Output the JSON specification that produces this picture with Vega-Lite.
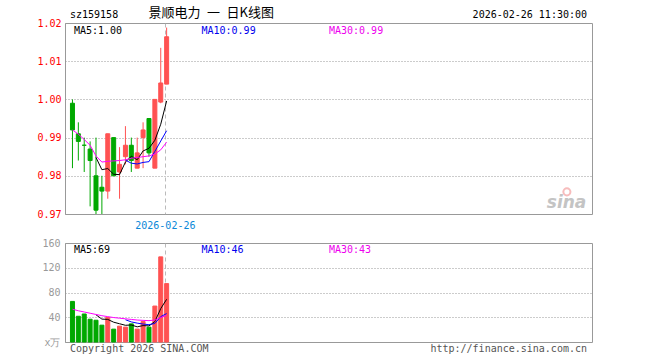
{
  "$schema": "https://vega.github.io/schema/vega-lite/v6.json",
  "padding": {"left": 36, "top": 6, "right": 0, "bottom": 0},
  "background": "white",
  "bounds": "flush",
  "spacing": 29,
  "config": {
    "view": {"stroke": "#999999", "strokeWidth": 1},
    "axis": {"labelFont": "DejaVu Sans Mono", "labelFontSize": 10, "title": null, "labelOverlap": false, "labelSeparation": 0},
    "axisY": {"labelOverlap": false},
    "axisQuantitative": {"labelOverlap": false},
    "text": {"font": "DejaVu Sans Mono", "fontSize": 10}
  },
  "datasets": {
    "candles": [
      {"i": 0, "open": 0.999, "high": 1.0, "low": 0.982, "close": 0.992, "vol": 65.6, "dir": "down"},
      {"i": 1, "open": 0.991, "high": 0.994, "low": 0.984, "close": 0.989, "vol": 41.6, "dir": "down"},
      {"i": 2, "open": 0.988, "high": 0.990, "low": 0.981, "close": 0.988, "vol": 45.3, "dir": "down"},
      {"i": 3, "open": 0.987, "high": 0.989, "low": 0.972, "close": 0.984, "vol": 36.8, "dir": "down"},
      {"i": 4, "open": 0.980, "high": 0.990, "low": 0.970, "close": 0.971, "vol": 35.2, "dir": "down"},
      {"i": 5, "open": 0.977, "high": 0.980, "low": 0.970, "close": 0.976, "vol": 27.2, "dir": "down"},
      {"i": 6, "open": 0.976, "high": 0.991, "low": 0.974, "close": 0.991, "vol": 39.5, "dir": "up"},
      {"i": 7, "open": 0.990, "high": 0.990, "low": 0.980, "close": 0.980, "vol": 20.8, "dir": "down"},
      {"i": 8, "open": 0.981, "high": 0.9875, "low": 0.974, "close": 0.983, "vol": 25.6, "dir": "up"},
      {"i": 9, "open": 0.985, "high": 0.993, "low": 0.983, "close": 0.988, "vol": 24.0, "dir": "up"},
      {"i": 10, "open": 0.988, "high": 0.990, "low": 0.981, "close": 0.984, "vol": 29.3, "dir": "down"},
      {"i": 11, "open": 0.982, "high": 0.990, "low": 0.982, "close": 0.986, "vol": 20.8, "dir": "up"},
      {"i": 12, "open": 0.990, "high": 0.994, "low": 0.982, "close": 0.992, "vol": 33.0, "dir": "up"},
      {"i": 13, "open": 0.995, "high": 0.995, "low": 0.985, "close": 0.986, "vol": 24.0, "dir": "down"},
      {"i": 14, "open": 0.982, "high": 1.000, "low": 0.982, "close": 1.000, "vol": 58.1, "dir": "up"},
      {"i": 15, "open": 0.9993, "high": 1.0135, "low": 0.999, "close": 1.0043, "vol": 137.6, "dir": "up"},
      {"i": 16, "open": 1.004, "high": 1.0188, "low": 1.004, "close": 1.0164, "vol": 94.4, "dir": "up"}
    ],
    "maPrice": [
      {"i": 4, "ma": "MA5", "v": 0.9848}, {"i": 5, "ma": "MA5", "v": 0.9816}, {"i": 6, "ma": "MA5", "v": 0.9819},
      {"i": 7, "ma": "MA5", "v": 0.9804}, {"i": 8, "ma": "MA5", "v": 0.9803}, {"i": 9, "ma": "MA5", "v": 0.9836},
      {"i": 10, "ma": "MA5", "v": 0.9851}, {"i": 11, "ma": "MA5", "v": 0.9842}, {"i": 12, "ma": "MA5", "v": 0.9865},
      {"i": 13, "ma": "MA5", "v": 0.9872}, {"i": 14, "ma": "MA5", "v": 0.9893}, {"i": 15, "ma": "MA5", "v": 0.9935},
      {"i": 16, "ma": "MA5", "v": 0.9996},
      {"i": 9, "ma": "MA10", "v": 0.9841}, {"i": 10, "ma": "MA10", "v": 0.9833}, {"i": 11, "ma": "MA10", "v": 0.9831},
      {"i": 12, "ma": "MA10", "v": 0.9835}, {"i": 13, "ma": "MA10", "v": 0.9837}, {"i": 14, "ma": "MA10", "v": 0.9864},
      {"i": 15, "ma": "MA10", "v": 0.9891}, {"i": 16, "ma": "MA10", "v": 0.9918},
      {"i": 0, "ma": "MA30", "v": 0.9920}, {"i": 1, "ma": "MA30", "v": 0.9909}, {"i": 2, "ma": "MA30", "v": 0.9895},
      {"i": 3, "ma": "MA30", "v": 0.9880}, {"i": 4, "ma": "MA30", "v": 0.9852}, {"i": 5, "ma": "MA30", "v": 0.9836},
      {"i": 6, "ma": "MA30", "v": 0.9838}, {"i": 7, "ma": "MA30", "v": 0.9839}, {"i": 8, "ma": "MA30", "v": 0.9840},
      {"i": 9, "ma": "MA30", "v": 0.9842}, {"i": 10, "ma": "MA30", "v": 0.9846}, {"i": 11, "ma": "MA30", "v": 0.9848},
      {"i": 12, "ma": "MA30", "v": 0.9850}, {"i": 13, "ma": "MA30", "v": 0.9852}, {"i": 14, "ma": "MA30", "v": 0.9857},
      {"i": 15, "ma": "MA30", "v": 0.9868}, {"i": 16, "ma": "MA30", "v": 0.9888}
    ],
    "maVol": [
      {"i": 4, "ma": "MA5", "v": 44}, {"i": 5, "ma": "MA5", "v": 37}, {"i": 6, "ma": "MA5", "v": 36.5},
      {"i": 7, "ma": "MA5", "v": 32}, {"i": 8, "ma": "MA5", "v": 29.5}, {"i": 9, "ma": "MA5", "v": 27},
      {"i": 10, "ma": "MA5", "v": 27.5}, {"i": 11, "ma": "MA5", "v": 24.5}, {"i": 12, "ma": "MA5", "v": 26.5},
      {"i": 13, "ma": "MA5", "v": 26}, {"i": 14, "ma": "MA5", "v": 33}, {"i": 15, "ma": "MA5", "v": 54},
      {"i": 16, "ma": "MA5", "v": 69},
      {"i": 9, "ma": "MA10", "v": 36}, {"i": 10, "ma": "MA10", "v": 32.5}, {"i": 11, "ma": "MA10", "v": 30.5},
      {"i": 12, "ma": "MA10", "v": 29}, {"i": 13, "ma": "MA10", "v": 28}, {"i": 14, "ma": "MA10", "v": 30},
      {"i": 15, "ma": "MA10", "v": 41}, {"i": 16, "ma": "MA10", "v": 46},
      {"i": 0, "ma": "MA30", "v": 53}, {"i": 1, "ma": "MA30", "v": 50.5}, {"i": 2, "ma": "MA30", "v": 48.5},
      {"i": 3, "ma": "MA30", "v": 46.5}, {"i": 4, "ma": "MA30", "v": 44.5}, {"i": 5, "ma": "MA30", "v": 42.5},
      {"i": 6, "ma": "MA30", "v": 41}, {"i": 7, "ma": "MA30", "v": 39.5}, {"i": 8, "ma": "MA30", "v": 38.5},
      {"i": 9, "ma": "MA30", "v": 37.5}, {"i": 10, "ma": "MA30", "v": 36.5}, {"i": 11, "ma": "MA30", "v": 35.5},
      {"i": 12, "ma": "MA30", "v": 35}, {"i": 13, "ma": "MA30", "v": 34.5}, {"i": 14, "ma": "MA30", "v": 35.5},
      {"i": 15, "ma": "MA30", "v": 39.5}, {"i": 16, "ma": "MA30", "v": 43}
    ]
  },
  "vconcat": [
    {
      "width": 527,
      "height": 191,
      "encoding": {
        "x": {"type": "quantitative",
          "scale": {"domain": [-0.417, 87.417], "nice": false, "zero": false},
          "axis": {"values": [15.7], "labelExpr": "'2026-02-26'", "ticks": false, "domain": false,
            "grid": true, "gridDash": [4, 3], "gridColor": "#bbbbbb", "labelColor": "#0a88d8", "labelPadding": 6}},
        "y": {"type": "quantitative",
          "scale": {"domain": [0.97, 1.02], "nice": false, "zero": false},
          "axis": {"values": [0.97, 0.98, 0.99, 1.0, 1.01, 1.02], "format": ".2f", "ticks": false, "domain": false,
            "labelOverlap": false, "grid": true, "gridDash": [1, 2], "gridColor": "#999999",
            "labelColor": "#ff0000", "labelPadding": 4}}
      },
      "layer": [
        {
          "data": {"name": "candles"},
          "mark": {"type": "rule", "strokeWidth": 1},
          "encoding": {
            "x": {"field": "i", "type": "quantitative"},
            "y": {"field": "low", "type": "quantitative"},
            "y2": {"field": "high"},
            "color": {"field": "dir", "type": "nominal",
              "scale": {"domain": ["up", "down", "MA5", "MA10", "MA30"], "range": ["#ff5252", "#00a800", "#000000", "#0000ff", "#ff00ff"]},
              "legend": null}
          }
        },
        {
          "data": {"name": "candles"},
          "mark": {"type": "bar", "width": 4, "strokeWidth": 1},
          "encoding": {
            "x": {"field": "i", "type": "quantitative"},
            "y": {"field": "open", "type": "quantitative"},
            "y2": {"field": "close"},
            "color": {"field": "dir", "type": "nominal", "legend": null},
            "stroke": {"field": "dir", "type": "nominal",
              "scale": {"domain": ["up", "down"], "range": ["#ff5252", "#00a800"]}, "legend": null}
          }
        },
        {
          "data": {"name": "maPrice"},
          "mark": {"type": "line", "strokeWidth": 1},
          "encoding": {
            "x": {"field": "i", "type": "quantitative"},
            "y": {"field": "v", "type": "quantitative"},
            "color": {"field": "ma", "type": "nominal", "legend": null}
          }
        },
        {
          "data": {"values": [{}]},
          "mark": {"type": "text", "text": "MA5:1.00", "align": "left", "baseline": "middle", "color": "#000000"},
          "encoding": {"x": {"datum": 0.25}, "y": {"datum": 1.0179}}
        },
        {
          "data": {"values": [{}]},
          "mark": {"type": "text", "text": "MA10:0.99", "align": "left", "baseline": "middle", "color": "#0000ee"},
          "encoding": {"x": {"datum": 21.92}, "y": {"datum": 1.0179}}
        },
        {
          "data": {"values": [{}]},
          "mark": {"type": "text", "text": "MA30:0.99", "align": "left", "baseline": "middle", "color": "#ee00ee"},
          "encoding": {"x": {"datum": 43.58}, "y": {"datum": 1.0179}}
        },
        {
          "data": {"values": [{}]},
          "mark": {"type": "text", "text": "sz159158", "align": "left", "baseline": "middle", "color": "#000000"},
          "encoding": {"x": {"datum": -0.417}, "y": {"datum": 1.0221}}
        },
        {
          "data": {"values": [{}]},
          "mark": {"type": "text", "text": "景顺电力\u2002一\u2002日K线图", "align": "left", "baseline": "middle", "color": "#000000", "font": "Noto Sans CJK SC", "fontSize": 13},
          "encoding": {"x": {"datum": 12.92}, "y": {"datum": 1.0225}}
        },
        {
          "data": {"values": [{}]},
          "mark": {"type": "text", "text": "2026-02-26 11:30:00", "align": "right", "baseline": "middle", "color": "#000000"},
          "encoding": {"x": {"datum": 87.417}, "y": {"datum": 1.0221}}
        },
        {
          "data": {"values": [{}]},
          "mark": {"type": "text", "text": "sina", "align": "right", "baseline": "alphabetic", "color": "#c4c4c4", "font": "DejaVu Sans", "fontSize": 17, "fontWeight": "bold", "fontStyle": "italic"},
          "encoding": {"x": {"datum": 87.3}, "y": {"datum": 0.9716}}
        },
        {
          "data": {"values": [{}]},
          "mark": {"type": "point", "filled": false, "size": 50, "strokeWidth": 2, "color": "#f4a0a0"},
          "encoding": {"x": {"datum": 84.0}, "y": {"datum": 0.9758}}
        }
      ]
    },
    {
      "width": 527,
      "height": 99,
      "encoding": {
        "x": {"type": "quantitative",
          "scale": {"domain": [-0.417, 87.417], "nice": false, "zero": false},
          "axis": {"values": [15.7], "labels": false, "ticks": false, "domain": false,
            "grid": true, "gridDash": [4, 3], "gridColor": "#bbbbbb"}},
        "y": {"type": "quantitative",
          "scale": {"domain": [0, 160], "nice": false},
          "axis": {"values": [0, 40, 80, 120, 160], "labelExpr": "datum.value == 0 ? 'x万' : datum.label",
            "labelOverlap": false, "ticks": false, "domain": false, "grid": true, "gridDash": [1, 2], "gridColor": "#999999",
            "labelColor": "#999999", "labelPadding": 5}}
      },
      "layer": [
        {
          "data": {"name": "candles"},
          "mark": {"type": "bar", "width": 4, "strokeWidth": 1},
          "encoding": {
            "x": {"field": "i", "type": "quantitative"},
            "y": {"field": "vol", "type": "quantitative"},
            "color": {"field": "dir", "type": "nominal",
              "scale": {"domain": ["up", "down", "MA5", "MA10", "MA30"], "range": ["#ff5252", "#00a800", "#000000", "#0000ff", "#ff00ff"]},
              "legend": null},
            "stroke": {"field": "dir", "type": "nominal",
              "scale": {"domain": ["up", "down"], "range": ["#ff5252", "#00a800"]}, "legend": null}
          }
        },
        {
          "data": {"name": "maVol"},
          "mark": {"type": "line", "strokeWidth": 1},
          "encoding": {
            "x": {"field": "i", "type": "quantitative"},
            "y": {"field": "v", "type": "quantitative"},
            "color": {"field": "ma", "type": "nominal", "legend": null}
          }
        },
        {
          "data": {"values": [{}]},
          "mark": {"type": "text", "text": "MA5:69", "align": "left", "baseline": "middle", "color": "#000000"},
          "encoding": {"x": {"datum": 0.25}, "y": {"datum": 148.7}}
        },
        {
          "data": {"values": [{}]},
          "mark": {"type": "text", "text": "MA10:46", "align": "left", "baseline": "middle", "color": "#0000ee"},
          "encoding": {"x": {"datum": 21.92}, "y": {"datum": 148.7}}
        },
        {
          "data": {"values": [{}]},
          "mark": {"type": "text", "text": "MA30:43", "align": "left", "baseline": "middle", "color": "#ee00ee"},
          "encoding": {"x": {"datum": 43.58}, "y": {"datum": 148.7}}
        },
        {
          "data": {"values": [{}]},
          "mark": {"type": "text", "text": "Copyright 2026 SINA.COM", "align": "left", "baseline": "middle", "color": "#555555"},
          "encoding": {"x": {"datum": -0.417}, "y": {"datum": -11.3}}
        },
        {
          "data": {"values": [{}]},
          "mark": {"type": "text", "text": "http://finance.sina.com.cn", "align": "right", "baseline": "middle", "color": "#555555"},
          "encoding": {"x": {"datum": 87.417}, "y": {"datum": -11.3}}
        }
      ]
    }
  ]
}
